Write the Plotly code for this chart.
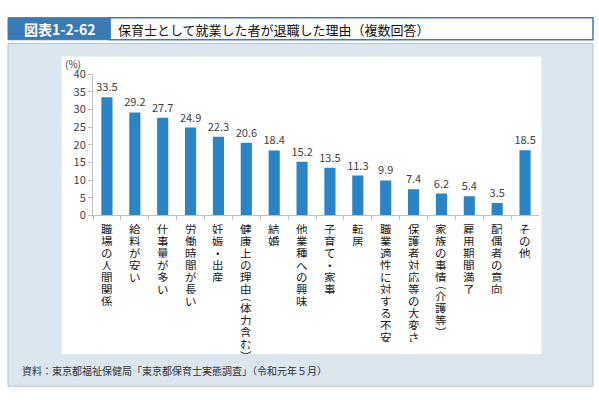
"""Reasons for leaving among those who worked as nursery teachers."""

import plotly.graph_objects as go

W, H = 599, 400
FONT = "Noto Sans CJK JP"

reasons = [
    "職場の人間関係", "給料が安い", "仕事量が多い", "労働時間が長い", "妊娠・出産",
    "健康上の理由（体力含む）", "結婚", "他業種への興味", "子育て・家事", "転居",
    "職業適性に対する不安", "保護者対応等の大変さ", "家族の事情（介護等）",
    "雇用期間満了", "配偶者の意向", "その他",
]
percent = [33.5, 29.2, 27.7, 24.9, 22.3, 20.6, 18.4, 15.2, 13.5, 11.3,
           9.9, 7.4, 6.2, 5.4, 3.5, 18.5]
y_ticks = [0, 5, 10, 15, 20, 25, 30, 35, 40]

header_label = "図表1-2-62"
title = "保育士として就業した者が退職した理由（複数回答）"
source = "資料：東京都福祉保健局「東京都保育士実態調査」（令和元年５月）"

# vertical writing forms for brackets: (glyph, lift in px, advance in px)
VERT = {"（": ("︵", 5, 7), "）": ("︶", 0, 7)}
STEP = 12


def px_x(x):
    return x / W


def px_y(y):
    return 1 - y / H


def box(x0, y0, x1, y1, fill, line=None, width=1):
    return dict(type="rect", xref="paper", yref="paper",
                x0=px_x(x0), x1=px_x(x1), y0=px_y(y1), y1=px_y(y0),
                fillcolor=fill, line=dict(color=line or fill, width=width),
                layer="below")


def text_at(text, x, y, size, color, xanchor="left"):
    return dict(text=text, x=px_x(x), y=px_y(y), xref="paper", yref="paper",
                xanchor=xanchor, yanchor="middle", showarrow=False,
                font=dict(size=size, color=color, family=FONT))


fig = go.Figure(go.Bar(
    x=reasons, y=percent, width=0.4,
    marker=dict(color="#2a84c6", line=dict(width=0)),
    text=[f"{v:.1f}" for v in percent], textposition="outside",
    constraintext="none",
    textfont=dict(size=11, color="#404040", family=FONT),
    cliponaxis=False,
))

shapes = [
    box(8, 36, 593, 393, "#dbe6ee", "#b8c3cc"),
    box(62, 50, 541, 359, "#ffffff"),
    box(110, 9, 593, 32, "#ffffff", "#3a7ab5", 1.5),
    box(8, 9, 110, 32, "#3a7ab5"),
]

annotations = [
    text_at("<b>" + header_label + "</b>", 59, 21, 14, "white", "center"),
    text_at(title, 116, 21, 13, "#111111"),
    text_at("(%)", 63, 57, 10, "#404040"),
    text_at(source, 20, 377, 10, "#333333"),
]

# category labels written top to bottom, one character at a time
for name in reasons:
    offset = 0.0
    for ch in name:
        glyph, lift, step = VERT.get(ch, (ch, 0, STEP))
        annotations.append(dict(
            text=glyph, x=name, y=px_y(222), xref="x", yref="paper",
            yanchor="top", yshift=-(offset - lift),
            showarrow=False, height=11, borderpad=0,
            font=dict(size=11.5, color="#1a1a1a", family=FONT)))
        offset += step

fig.update_layout(
    width=W, height=H, margin=dict(l=0, r=0, t=0, b=0),
    paper_bgcolor="white", plot_bgcolor="rgba(0,0,0,0)",
    showlegend=False, shapes=shapes, annotations=annotations,
    font=dict(family=FONT),
    xaxis=dict(domain=[px_x(93), px_x(539)], showticklabels=False,
               showline=True, linecolor="#bfbfbf", ticks="outside",
               tickson="boundaries", ticklen=4, tickcolor="#bfbfbf"),
    yaxis=dict(domain=[px_y(215), px_y(68)], range=[0, 40], tickvals=y_ticks,
               showgrid=False, showline=True, linecolor="#bfbfbf",
               ticks="outside", ticklen=4, tickcolor="#bfbfbf",
               tickfont=dict(size=11, color="#404040", family=FONT)),
)

fig.write_html(
    "out.html",
    config={"displayModeBar": False},
    post_script="document.body.style.margin='0';"
                "document.body.style.overflow='hidden';",
)
